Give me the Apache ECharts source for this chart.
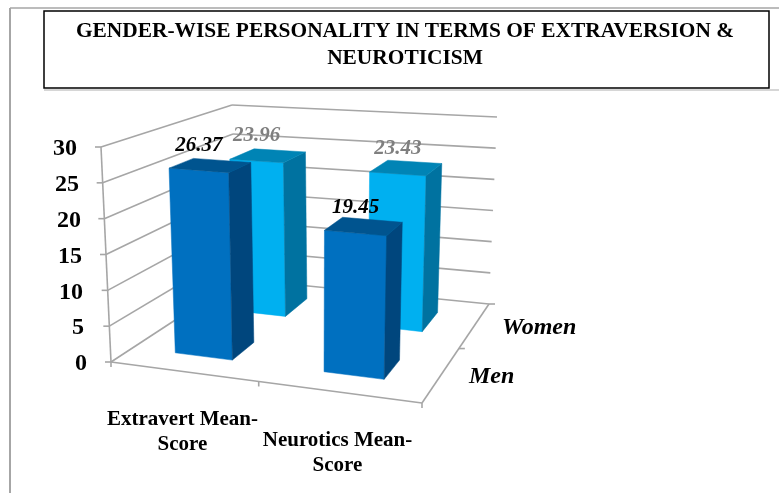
<!DOCTYPE html>
<html>
<head>
<meta charset="utf-8">
<style>html,body{margin:0;padding:0;background:#fff}#main{width:779px;height:493px}</style>
<script src="https://cdn.jsdelivr.net/npm/echarts@6/dist/echarts.min.js"></script>
</head>
<body>
<div id="main"></div>
<script>
var titleText = 'GENDER-WISE PERSONALITY IN TERMS OF EXTRAVERSION &\nNEUROTICISM'
var categories = ['Extravert Mean-\nScore', 'Neurotics Mean-\nScore']
var seriesNames = ['Men', 'Women']
var menValues = [26.37, 19.45]
var womenValues = [23.96, 23.43]
var valueTicks = [0, 5, 10, 15, 20, 25, 30]

var SERIF = '"Liberation Serif", serif'
var GRID = '#a6a6a6'
// the box corners as seen on screen: floor and top, front and back
var FL = [111, 362], FR = [422, 403], BL = [238, 279], BR = [489, 304]
var FLT = [101, 147], FRT = [428, 171], BLT = [232, 105], BRT = [497, 117]
var BAR_U = 0.095, BAR_W = 0.1
var faces = {
  Men: { front: '#0070c0', top: '#00548f', side: '#00467d', label: '#000' },
  Women: { front: '#00b0f0', top: '#0084b5', side: '#0072a0', label: '#7f7f7f' }
}

function lerp(a, b, k) { return [a[0] + (b[0] - a[0]) * k, a[1] + (b[1] - a[1]) * k] }
// u along the categories, w into the depth, t up the value range
function project(u, w, t) {
  var floor = lerp(lerp(FL, FR, u), lerp(BL, BR, u), w)
  var top = lerp(lerp(FLT, FRT, u), lerp(BLT, BRT, u), w)
  return lerp(floor, top, t)
}
function depthCentre(k) { return (k + 0.5) / 2 + 0.025 - 0.005 * k }
function line(a, b, width) {
  return { type: 'line', shape: { x1: a[0], y1: a[1], x2: b[0], y2: b[1] }, style: { stroke: GRID, lineWidth: width || 1.6 }, silent: true }
}
function face(points, fill) {
  return { type: 'polygon', shape: { points: points }, style: { fill: fill, stroke: fill, lineWidth: 0.5 }, silent: true }
}
function valueFrac(api, g, v) { return (g.y + g.height - api.coord([0, v])[1]) / g.height }

function renderBox(params, api) {
  var g = params.coordSys, kids = []
  valueTicks.forEach(function (v) {
    var t = valueFrac(api, g, v)
    var a = project(0, 0, t), b = project(0, 1, t), c = project(1, 1, t)
    kids.push(line([a[0] - 6, a[1]], a), line(a, b), line(b, c))
  })
  kids.push(line(project(0, 0, 0), project(0, 0, 1)))
  kids.push(line(project(0, 0, 0), project(1, 0, 0)), line(project(1, 0, 0), project(1, 1, 0)))
  // ticks under the floor edges
  ;[0, 0.475, 1].forEach(function (u) {
    var p = project(u, 0, 0)
    kids.push(line(p, [p[0], p[1] + 5]))
  })
  ;[0.55, 1].forEach(function (w) {
    var p = project(1, w, 0)
    kids.push(line(p, [p[0] + 6, p[1]]))
  })
  seriesNames.forEach(function (name, k) {
    var p = project(1, depthCentre(k), 0)
    kids.push({
      type: 'text', silent: true,
      style: { x: p[0] + 28.5, y: p[1] + 1, text: name, fill: '#000', font: 'italic bold 24px ' + SERIF, textAlign: 'left', textVerticalAlign: 'middle' }
    })
  })
  return { type: 'group', children: kids }
}

function renderBar(params, api) {
  var g = params.coordSys
  var cat = api.value(0), v = api.value(2)
  var name = seriesNames[api.value(1)], c = faces[name]
  var uc = (api.coord([cat, 0])[0] - g.x) / g.width - 0.015
  var wc = depthCentre(api.value(1))
  var t = valueFrac(api, g, v)
  var half = BAR_U + 0.005 * cat
  var u0 = uc - half, u1 = uc + half, w0 = wc - BAR_W, w1 = wc + BAR_W
  var a = project(u0, w0, 0), b = project(u1, w0, 0), d = project(u1, w1, 0)
  var at = project(u0, w0, t), bt = project(u1, w0, t), dt = project(u1, w1, t), et = project(u0, w1, t)
  var mid = lerp(at, bt, 0.5)
  return {
    type: 'group',
    children: [
      face([a, b, bt, at], c.front),
      face([b, d, dt, bt], c.side),
      face([at, bt, dt, et], c.top),
      {
        type: 'text', silent: true, z2: 50,
        style: { x: mid[0], y: mid[1] - 25, text: v.toFixed(2), fill: c.label, font: 'italic bold 21px ' + SERIF, textAlign: 'center', textVerticalAlign: 'middle' }
      }
    ]
  }
}

// women stand behind men, so they go first
var barData = []
womenValues.forEach(function (v, i) { barData.push([i, 1, v]) })
menValues.forEach(function (v, i) { barData.push([i, 0, v]) })

// the value labels follow the tilted axis
var labelPad = { 30: 10, 25: 8, 20: 6, 15: 5, 10: 4, 5: 3, 0: 0 }
var yRich = {}
valueTicks.forEach(function (v) {
  yRich['v' + v] = { fontFamily: SERIF, fontWeight: 'bold', fontSize: 24, color: '#000', padding: [4, labelPad[v], 0, 0] }
})

var myChart = echarts.init(document.getElementById('main'), null, { renderer: 'canvas' })
myChart.setOption({
  animation: false,
  backgroundColor: '#fff',
  title: {
    text: titleText, left: 400, top: 13, textAlign: 'center',
    textStyle: { fontFamily: SERIF, fontWeight: 'bold', fontSize: 21.4, lineHeight: 27, color: '#000' }
  },
  grid: { left: 105, top: 147, width: 310, height: 215 },
  xAxis: {
    type: 'category', data: categories,
    axisLine: { show: false }, axisTick: { show: false },
    axisLabel: {
      interval: 0, margin: 45, align: 'center',
      formatter: function (val, i) {
        var parts = val.split('\n')
        var text = '{cat|' + parts[0] + '}\n{cat|' + parts[1] + '}'
        // the second label sits one step lower
        return i ? '{gap| }\n' + text : text
      },
      rich: {
        cat: { fontFamily: SERIF, fontWeight: 'bold', fontSize: 21, color: '#000', lineHeight: 25 },
        gap: { fontSize: 10, lineHeight: 21 }
      }
    }
  },
  yAxis: {
    type: 'value', min: 0, max: 30, interval: 5,
    axisLine: { show: false }, axisTick: { show: false }, splitLine: { show: false },
    axisLabel: {
      margin: 18,
      formatter: function (v) { return '{v' + v + '|' + v + '}' },
      rich: yRich
    }
  },
  graphic: [
    { type: 'line', shape: { x1: 10, y1: 8, x2: 779, y2: 8 }, style: { stroke: '#a6a6a6', lineWidth: 1.5 }, z: 0 },
    { type: 'line', shape: { x1: 10, y1: 8, x2: 10, y2: 493 }, style: { stroke: '#a6a6a6', lineWidth: 2 }, z: 0 },
    { type: 'line', shape: { x1: 44, y1: 90, x2: 779, y2: 90 }, style: { stroke: '#c8c8c8', lineWidth: 1.5 }, z: 0 },
    { type: 'rect', shape: { x: 44, y: 11, width: 725, height: 77 }, style: { fill: '#fff', stroke: '#000', lineWidth: 1.5 }, z: 1 }
  ],
  series: [
    { type: 'custom', name: 'box', renderItem: renderBox, data: [[0, 0]], encode: { x: 0, y: 1 }, clip: false, z: 2 },
    { type: 'custom', name: 'bars', renderItem: renderBar, data: barData, encode: { x: 0, y: 2 }, clip: false, z: 3 }
  ]
})
</script>
</body>
</html>
